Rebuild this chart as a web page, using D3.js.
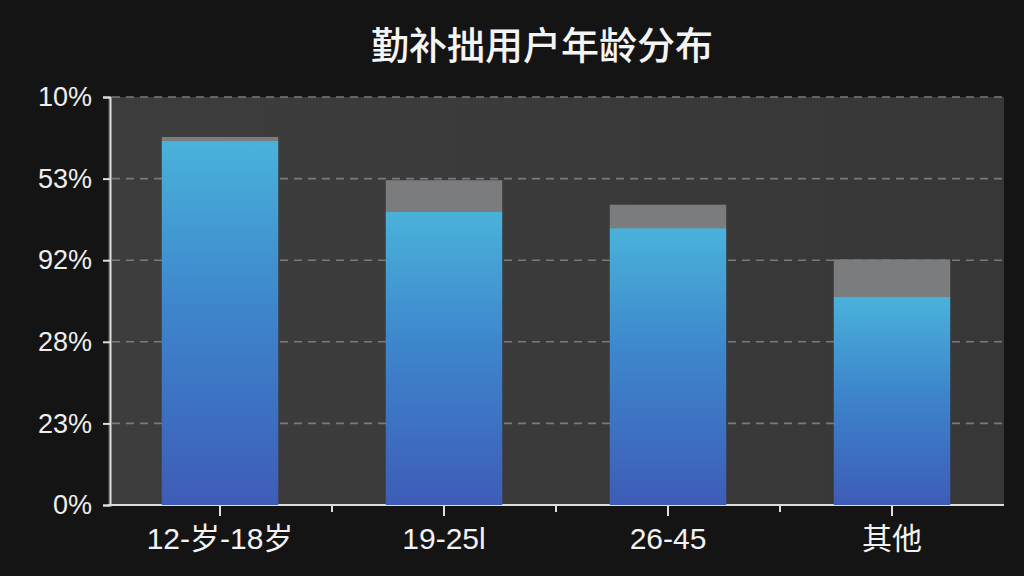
<!DOCTYPE html>
<html>
<head>
<meta charset="utf-8">
<script src="https://cdn.jsdelivr.net/npm/d3@7"></script>
<style>
	html, body { margin: 0; padding: 0; background: #141414; }
	#content { width: 1024px; height: 576px; }
</style>
</head>
<body>
<div id="content"></div>
<script>
// Chart data
var title = "勤补拙用户年龄分布";
var categories = ["12-岁-18岁", "19-25l", "26-45", "其他"];
var mainValues = [44.6, 35.9, 33.9, 25.5];   // blue part
var capValues = [0.5, 3.9, 2.9, 4.6];        // grey top part
var tickValues = [0, 10, 20, 30, 40, 50];
var tickLabels = ["0%", "23%", "28%", "92%", "53%", "10%"];

function main() {
	var width = 1024, height = 576;
	var margin = { top: 97, right: 20, bottom: 71, left: 108 };

	var svg = d3.select("#content")
		.append("svg")
		.attr("width", width)
		.attr("height", height);

	svg.append("rect")
		.attr("width", width)
		.attr("height", height)
		.attr("fill", "#141414");

	var x = d3.scaleBand()
		.domain(categories)
		.range([margin.left, width - margin.right])
		.paddingInner(0.48)
		.paddingOuter(0.24);

	var y = d3.scaleLinear()
		.domain([0, 50])
		.range([height - margin.bottom, margin.top]);

	// gradients
	var defs = svg.append("defs");
	var grad = defs.append("linearGradient")
		.attr("id", "barGrad")
		.attr("x1", 0).attr("y1", 1).attr("x2", 0).attr("y2", 0);
	grad.append("stop").attr("offset", "0%").attr("stop-color", "#3e5cb8");
	grad.append("stop").attr("offset", "55%").attr("stop-color", "#3d86cc");
	grad.append("stop").attr("offset", "100%").attr("stop-color", "#4ab2da");

	var panelGrad = defs.append("linearGradient")
		.attr("id", "panelGrad")
		.attr("x1", 0).attr("y1", 0).attr("x2", 1).attr("y2", 0);
	panelGrad.append("stop").attr("offset", "0%").attr("stop-color", "#3d3d3d");
	panelGrad.append("stop").attr("offset", "50%").attr("stop-color", "#3a3a3a");
	panelGrad.append("stop").attr("offset", "100%").attr("stop-color", "#373737");

	// plot panel
	svg.append("rect")
		.attr("x", margin.left)
		.attr("y", y(50))
		.attr("width", width - margin.right - margin.left)
		.attr("height", y(0) - y(50))
		.attr("fill", "url(#panelGrad)");

	// grid lines
	svg.append("g")
		.selectAll("line")
		.data(tickValues.filter(function (d) { return d > 0; }))
		.enter().append("line")
		.attr("x1", margin.left + 4)
		.attr("x2", width - margin.right)
		.attr("y1", function (d) { return y(d); })
		.attr("y2", function (d) { return y(d); })
		.attr("stroke", "#7a7a7a")
		.attr("stroke-width", 1.6)
		.attr("stroke-dasharray", "8,6");

	// x axis line
	svg.append("line")
		.attr("x1", margin.left)
		.attr("x2", width - margin.right)
		.attr("y1", y(0))
		.attr("y2", y(0))
		.attr("stroke", "#dddddd")
		.attr("stroke-width", 2);

	// cap (grey) part
	svg.append("g")
		.selectAll("rect")
		.data(categories)
		.enter().append("rect")
		.attr("x", function (d) { return x(d); })
		.attr("width", x.bandwidth())
		.attr("y", function (d, i) { return y(mainValues[i] + capValues[i]); })
		.attr("height", function (d, i) { return y(mainValues[i]) - y(mainValues[i] + capValues[i]) + 1; })
		.attr("fill", "#7b7c7e");

	// main bars
	svg.append("g")
		.selectAll("rect")
		.data(categories)
		.enter().append("rect")
		.attr("x", function (d) { return x(d); })
		.attr("width", x.bandwidth())
		.attr("y", function (d, i) { return y(mainValues[i]); })
		.attr("height", function (d, i) { return y(0) - y(mainValues[i]); })
		.attr("fill", "url(#barGrad)");

	// y axis
	var yAxis = d3.axisLeft(y)
		.tickValues(tickValues)
		.tickSize(7)
		.tickPadding(11)
		.tickFormat(function (d, i) { return tickLabels[i]; });

	var yG = svg.append("g")
		.attr("transform", "translate(" + (margin.left + 2) + ",0)")
		.call(yAxis);
	yG.select(".domain").attr("stroke", "#dddddd").attr("stroke-width", 2);
	yG.selectAll(".tick line").attr("stroke", "#dddddd").attr("stroke-width", 2);
	yG.selectAll(".tick text")
		.attr("fill", "#eeeeee")
		.style("font-family", "'Liberation Sans', Arial, sans-serif")
		.style("font-size", "27px");

	// x ticks: at centers and between bars
	var step = x.step();
	var centers = categories.map(function (d) { return x(d) + x.bandwidth() / 2; });
	svg.append("g")
		.selectAll("line")
		.data(centers)
		.enter().append("line")
		.attr("x1", function (d) { return d; })
		.attr("x2", function (d) { return d; })
		.attr("y1", y(0))
		.attr("y2", y(0) + 11)
		.attr("stroke", "#dddddd")
		.attr("stroke-width", 2);
	svg.append("g")
		.selectAll("line")
		.data(centers.slice(0, -1))
		.enter().append("line")
		.attr("x1", function (d) { return d + step / 2; })
		.attr("x2", function (d) { return d + step / 2; })
		.attr("y1", y(0))
		.attr("y2", y(0) + 7)
		.attr("stroke", "#dddddd")
		.attr("stroke-width", 2);

	// x labels
	svg.append("g")
		.selectAll("text")
		.data(categories)
		.enter().append("text")
		.attr("x", function (d) { return x(d) + x.bandwidth() / 2; })
		.attr("y", y(0) + 44)
		.attr("text-anchor", "middle")
		.attr("fill", "#f2f2f2")
		.style("font-family", "'Liberation Sans', 'Noto Sans CJK SC', sans-serif")
		.style("font-size", "30px")
		.text(function (d) { return d; });

	// title
	svg.append("text")
		.attr("x", 542)
		.attr("y", 59)
		.attr("text-anchor", "middle")
		.attr("fill", "#f4f4f4")
		.style("font-family", "'Noto Sans CJK SC', sans-serif")
		.style("font-size", "38px")
		.style("font-weight", 500)
		.text(title);
}

main();
</script>
</body>
</html>
